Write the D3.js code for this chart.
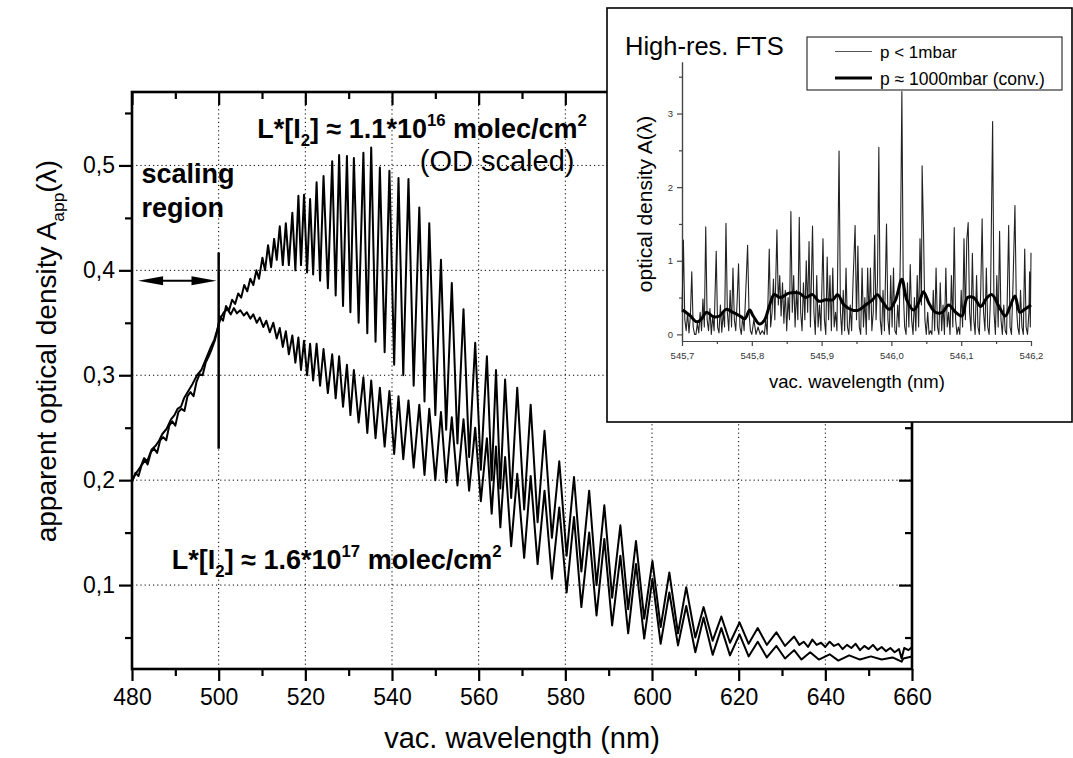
<!DOCTYPE html>
<html>
<head>
<meta charset="utf-8">
<script src="https://cdn.jsdelivr.net/npm/d3@7"></script>
<style>
  body { margin: 0; background: #fff; }
  svg { font-family: "Liberation Sans", Arial, sans-serif; }
  text { white-space: pre; }
</style>
</head>
<body>
<svg id="chart" width="1073" height="758"></svg>
<script>
// main axes ticks
var xMajor = [480, 500, 520, 540, 560, 580, 600, 620, 640, 660];
var xMinor = [490, 510, 530, 550, 570, 590, 610, 630, 650];
var yMajor = [0.1, 0.2, 0.3, 0.4, 0.5];
var yMinor = [0.05, 0.15, 0.25, 0.35, 0.45, 0.55];
var xGrid = [500, 520, 540, 560, 580, 600, 620, 640];

// L*[I2] = 1.1e16 molec/cm2 (OD scaled)  [nm, OD]
var specLow = [
  [480, 0.198], [480.8, 0.207], [481.5, 0.204], [482.2, 0.214], [483, 0.219], [483.6, 0.215],
  [484.4, 0.227], [485.1, 0.23], [485.8, 0.226], [486.5, 0.238], [487.2, 0.241], [487.9, 0.238],
  [488.6, 0.252], [489.3, 0.256], [490, 0.252], [490.7, 0.265], [491.4, 0.268], [492.1, 0.266],
  [492.8, 0.28], [493.5, 0.284], [494.2, 0.28], [494.9, 0.294], [495.6, 0.301], [496.3, 0.3],
  [497, 0.312], [497.7, 0.318], [498.4, 0.325], [499.1, 0.333], [499.7, 0.343], [500.3, 0.356],
  [501, 0.352], [501.7, 0.366], [502.4, 0.362], [503.1, 0.372], [503.8, 0.368], [504.5, 0.378],
  [505.2, 0.374], [505.9, 0.386], [506.6, 0.38], [507.3, 0.392], [508, 0.386], [508.7, 0.4],
  [509.3, 0.392], [510.1, 0.412], [510.7, 0.4], [511.4, 0.424], [512.1, 0.403], [512.8, 0.43],
  [513.4, 0.41], [514.1, 0.442], [514.8, 0.405], [515.5, 0.445], [516.2, 0.405], [517, 0.455],
  [517.7, 0.4], [518.4, 0.471], [519, 0.405], [519.7, 0.472], [520.4, 0.398], [521.1, 0.468],
  [521.8, 0.396], [522.6, 0.484], [523.4, 0.39], [524.2, 0.49], [525.2, 0.383], [526.2, 0.504],
  [527, 0.376], [527.8, 0.51], [528.7, 0.366], [529.6, 0.509], [530.4, 0.36], [531.2, 0.507],
  [532.3, 0.35], [533.4, 0.512], [534.3, 0.34], [535.2, 0.517], [536.2, 0.332], [537.2, 0.498],
  [538.3, 0.322], [539.4, 0.495], [540.5, 0.31], [541.5, 0.488], [542.6, 0.3], [543.8, 0.487],
  [545, 0.29], [546.3, 0.46], [547.5, 0.275], [548.6, 0.445], [550, 0.262], [551.3, 0.41],
  [552.5, 0.248], [553.8, 0.388], [555.1, 0.235], [556.5, 0.363], [557.8, 0.222], [559.2, 0.331],
  [560.5, 0.21], [561.9, 0.318], [563, 0.2], [564, 0.305], [565, 0.192], [566.1, 0.296],
  [567.5, 0.183], [568.9, 0.288], [570.5, 0.172], [572, 0.272], [573.6, 0.16], [575.2, 0.247],
  [576.9, 0.145], [578.6, 0.218], [580.3, 0.128], [582, 0.203], [583.7, 0.113], [585.5, 0.19],
  [587.2, 0.1], [589, 0.176], [590.8, 0.088], [592.7, 0.157], [594.5, 0.077], [596.3, 0.142],
  [598.2, 0.068], [600.1, 0.123], [602, 0.06], [604, 0.112], [606, 0.054], [607.9, 0.098],
  [610, 0.05], [611.9, 0.079], [614, 0.047], [616, 0.07], [618, 0.045], [620.2, 0.0645],
  [622.3, 0.044], [624.4, 0.059], [626.5, 0.043], [628.7, 0.055], [630.7, 0.042], [632.8, 0.051],
  [634, 0.043], [635, 0.046], [636, 0.041], [637, 0.048], [638, 0.043], [639, 0.045],
  [640, 0.041], [641, 0.046], [642, 0.042], [643, 0.044], [644, 0.039], [645, 0.043],
  [646, 0.04], [647, 0.044], [648, 0.038], [649, 0.042], [650, 0.039], [651, 0.043],
  [652, 0.038], [653, 0.041], [654, 0.037], [655, 0.04], [656, 0.036], [657, 0.039],
  [657.6, 0.03], [658.2, 0.04], [659.2, 0.038], [660, 0.041]
];

// L*[I2] = 1.6e17 molec/cm2
var specHigh = [
  [480, 0.2], [481, 0.207], [482, 0.213], [482.8, 0.221], [483.5, 0.218], [484.5, 0.229],
  [485.5, 0.233], [486.3, 0.238], [487, 0.244], [488, 0.249], [489, 0.258], [489.8, 0.262],
  [490.5, 0.268], [491.3, 0.27], [492, 0.278], [493, 0.285], [494, 0.292], [495, 0.3],
  [496, 0.305], [497, 0.315], [498, 0.325], [499, 0.334], [499.8, 0.345], [500.5, 0.355],
  [501.2, 0.36], [502, 0.363], [502.8, 0.358], [503.5, 0.364], [504.2, 0.359], [505, 0.362],
  [505.8, 0.357], [506.5, 0.36], [507.3, 0.354], [508, 0.358], [508.8, 0.35], [509.5, 0.355],
  [510.3, 0.346], [511, 0.352], [511.8, 0.341], [512.6, 0.35], [513.4, 0.335], [514.1, 0.345],
  [514.8, 0.327], [515.5, 0.342], [516.2, 0.32], [517, 0.338], [517.7, 0.312], [518.4, 0.336],
  [519, 0.305], [519.7, 0.333], [520.4, 0.3], [521.1, 0.33], [521.8, 0.295], [522.6, 0.33],
  [523.4, 0.29], [524.2, 0.325], [525.2, 0.283], [526.2, 0.32], [527, 0.278], [527.8, 0.318],
  [528.7, 0.27], [529.6, 0.31], [530.4, 0.262], [531.2, 0.305], [532.3, 0.255], [533.4, 0.298],
  [534.3, 0.245], [535.2, 0.295], [536.2, 0.24], [537.2, 0.288], [538.3, 0.232], [539.4, 0.285],
  [540.5, 0.225], [541.5, 0.28], [542.6, 0.22], [543.8, 0.276], [545, 0.212], [546.3, 0.272],
  [547.5, 0.205], [548.6, 0.268], [550, 0.2], [551.3, 0.265], [552.5, 0.198], [553.8, 0.26],
  [555.1, 0.195], [556.5, 0.258], [557.8, 0.19], [559.2, 0.25], [560.5, 0.18], [561.9, 0.24],
  [563, 0.168], [564, 0.232], [565, 0.155], [566.1, 0.222], [567.5, 0.137], [568.9, 0.206],
  [570.5, 0.126], [572, 0.204], [573.6, 0.12], [575.2, 0.19], [576.9, 0.106], [578.6, 0.174],
  [580.3, 0.093], [582, 0.165], [583.7, 0.079], [585.5, 0.15], [587.2, 0.071], [589, 0.144],
  [590.8, 0.0615], [592.7, 0.128], [594.5, 0.054], [596.3, 0.12], [598.2, 0.049], [600.1, 0.106],
  [602, 0.044], [604, 0.093], [606, 0.0425], [607.9, 0.08], [610, 0.036], [611.9, 0.069],
  [614, 0.0335], [616, 0.059], [618, 0.033], [620.2, 0.053], [622.3, 0.032], [624.4, 0.046],
  [626.5, 0.031], [628.7, 0.042], [630.7, 0.03], [632.8, 0.038], [634.5, 0.029], [636.5, 0.036],
  [638.5, 0.029], [641, 0.034], [643, 0.028], [645.5, 0.033], [648, 0.029], [650.5, 0.032],
  [653, 0.029], [655.5, 0.031], [657.6, 0.027], [658, 0.03], [660, 0.032]
];

// inset: high-res FTS, p < 1mbar
var ftsRaw = [
  [545.700, 0.30], [545.702, 1.28], [545.704, 0.20], [545.706, 0.05], [545.708, 0.30], [545.710, 0.02],
  [545.712, 0.25], [545.714, 0.85], [545.716, 0.10], [545.718, 0.00], [545.720, 0.00], [545.722, 0.15],
  [545.724, 0.02], [545.726, 0.30], [545.728, 0.05], [545.730, 0.48], [545.732, 0.10], [545.734, 1.46],
  [545.736, 0.20], [545.738, 0.05], [545.740, 0.35], [545.742, 0.00], [545.744, 0.25], [545.746, 0.05],
  [545.749, 1.13], [545.751, 0.10], [545.753, 0.02], [545.755, 0.40], [545.757, 0.03], [545.759, 0.30],
  [545.761, 0.10], [545.763, 1.51], [545.765, 0.30], [545.767, 0.05], [545.769, 0.60], [545.771, 0.10],
  [545.773, 0.90], [545.775, 0.20], [545.777, 0.05], [545.779, 0.45], [545.781, 0.96], [545.783, 0.10],
  [545.785, 0.00], [545.787, 0.25], [545.789, 0.05], [545.791, 0.50], [545.794, 1.21], [545.796, 0.30],
  [545.798, 0.05], [545.800, 0.00], [545.803, 0.20], [545.806, 0.00], [545.809, 0.10], [545.812, 0.00],
  [545.815, 0.05], [545.818, 0.00], [545.820, 0.20], [545.822, 0.00], [545.825, 1.16], [545.827, 0.10],
  [545.829, 0.30], [545.831, 0.75], [545.833, 0.20], [545.836, 1.42], [545.838, 0.40], [545.840, 0.80],
  [545.842, 0.25], [545.844, 0.70], [545.846, 0.15], [545.848, 0.60], [545.850, 0.05], [545.852, 0.50],
  [545.854, 0.20], [545.856, 1.67], [545.858, 0.30], [545.860, 0.80], [545.862, 0.10], [545.864, 0.60],
  [545.866, 0.20], [545.868, 1.59], [545.870, 0.30], [545.872, 0.05], [545.874, 0.70], [545.876, 0.20],
  [545.878, 1.00], [545.880, 0.30], [545.882, 1.26], [545.884, 0.10], [545.887, 1.47], [545.889, 0.30],
  [545.891, 0.00], [545.893, 0.80], [545.895, 0.10], [545.897, 0.40], [545.899, 0.05], [545.902, 1.30],
  [545.904, 0.20], [545.906, 0.00], [545.908, 1.05], [545.910, 0.20], [545.912, 0.80], [545.914, 0.05],
  [545.916, 0.90], [545.918, 0.10], [545.920, 0.30], [545.922, 0.05], [545.925, 2.49], [545.927, 0.30],
  [545.929, 0.00], [545.931, 0.60], [545.933, 0.05], [545.935, 0.90], [545.937, 0.10], [545.939, 0.00],
  [545.941, 0.40], [545.943, 0.05], [545.945, 0.70], [545.948, 1.48], [545.950, 0.20], [545.952, 1.20],
  [545.954, 0.10], [545.956, 0.00], [545.958, 0.90], [545.960, 0.10], [545.962, 0.50], [545.964, 0.00],
  [545.966, 0.90], [545.968, 0.20], [545.970, 0.90], [545.972, 0.05], [545.974, 0.30], [545.976, 1.35],
  [545.978, 0.20], [545.980, 0.70], [545.982, 2.54], [545.984, 0.20], [545.986, 0.00], [545.988, 0.60],
  [545.990, 0.05], [545.993, 1.50], [545.995, 0.20], [545.997, 0.00], [545.999, 0.80], [546.001, 0.10],
  [546.003, 0.90], [546.005, 0.05], [546.007, 0.00], [546.009, 0.40], [546.011, 0.10], [546.013, 1.20],
  [546.015, 3.30], [546.017, 0.60], [546.019, 0.10], [546.021, 0.00], [546.023, 0.70], [546.025, 0.10],
  [546.027, 0.95], [546.029, 0.20], [546.031, 0.00], [546.033, 0.50], [546.035, 0.05], [546.037, 0.80],
  [546.039, 0.10], [546.041, 1.30], [546.043, 0.40], [546.044, 2.29], [546.046, 1.40], [546.048, 0.20],
  [546.050, 0.00], [546.052, 0.30], [546.054, 0.00], [546.056, 0.05], [546.058, 0.00], [546.060, 0.60],
  [546.062, 0.05], [546.064, 0.90], [546.066, 0.10], [546.068, 0.00], [546.070, 0.70], [546.072, 0.05],
  [546.074, 0.40], [546.076, 0.00], [546.078, 0.90], [546.080, 0.10], [546.082, 0.30], [546.084, 0.00],
  [546.086, 0.80], [546.088, 0.10], [546.090, 1.45], [546.092, 0.20], [546.094, 0.00], [546.096, 0.10],
  [546.098, 0.00], [546.100, 0.60], [546.102, 0.10], [546.104, 1.30], [546.106, 0.20], [546.108, 1.28],
  [546.110, 1.52], [546.112, 0.30], [546.114, 0.05], [546.116, 1.10], [546.118, 0.20], [546.120, 0.00],
  [546.122, 0.80], [546.124, 0.10], [546.126, 0.00], [546.128, 0.60], [546.130, 1.57], [546.132, 0.30],
  [546.134, 0.05], [546.136, 0.90], [546.138, 0.10], [546.140, 0.00], [546.142, 0.50], [546.145, 2.89],
  [546.147, 0.30], [546.149, 0.00], [546.151, 0.80], [546.153, 0.10], [546.155, 1.40], [546.157, 0.20],
  [546.159, 0.00], [546.161, 0.40], [546.163, 0.05], [546.165, 0.00], [546.168, 1.48], [546.170, 0.10],
  [546.172, 0.00], [546.174, 0.60], [546.177, 1.75], [546.179, 0.40], [546.181, 0.10], [546.183, 0.00],
  [546.185, 0.60], [546.187, 0.10], [546.189, 0.00], [546.191, 1.16], [546.193, 0.10], [546.195, 0.00],
  [546.197, 0.30], [546.198, 0.85], [546.199, 0.10], [546.200, 1.11]
];

// inset: p ~ 1000mbar (convolved)
var ftsConv = [
  [545.701, 0.33], [545.712, 0.25], [545.721, 0.17], [545.728, 0.21], [545.735, 0.30], [545.745, 0.24],
  [545.754, 0.25], [545.763, 0.34], [545.773, 0.30], [545.783, 0.25], [545.790, 0.21], [545.797, 0.33],
  [545.802, 0.25], [545.811, 0.14], [545.818, 0.19], [545.825, 0.38], [545.832, 0.54], [545.841, 0.50],
  [545.853, 0.56], [545.868, 0.56], [545.877, 0.50], [545.887, 0.54], [545.896, 0.45], [545.906, 0.47],
  [545.916, 0.47], [545.923, 0.54], [545.932, 0.40], [545.944, 0.33], [545.953, 0.33], [545.963, 0.40],
  [545.973, 0.47], [545.980, 0.54], [545.987, 0.45], [545.997, 0.34], [546.006, 0.47], [546.015, 0.75],
  [546.022, 0.47], [546.032, 0.33], [546.041, 0.47], [546.046, 0.58], [546.054, 0.42], [546.063, 0.30],
  [546.073, 0.30], [546.082, 0.40], [546.092, 0.30], [546.101, 0.25], [546.109, 0.50], [546.118, 0.50],
  [546.128, 0.38], [546.137, 0.50], [546.144, 0.54], [546.154, 0.38], [546.163, 0.25], [546.170, 0.38],
  [546.177, 0.52], [546.184, 0.30], [546.191, 0.34], [546.200, 0.40]
];

var insetXTicks = [545.7, 545.8, 545.9, 546.0, 546.1, 546.2];
var insetXMinor = [545.75, 545.85, 545.95, 546.05, 546.15];
var insetYTicks = [0, 1, 2, 3];
var insetYMinor = [0.5, 1.5, 2.5, 3.5];

var svg = d3.select("#chart");
var x = d3.scaleLinear().domain([480, 660]).range([132, 912]);
var y = d3.scaleLinear().domain([0.02, 0.57]).range([669, 92]);
var comma = function (d) { return d3.format(".1f")(d).replace(".", ","); };

// grid
var grid = svg.append("g").attr("stroke", "#000").attr("stroke-width", 1).attr("stroke-dasharray", "1.2,3");
grid.selectAll(".gx").data(xGrid).enter().append("line")
    .attr("x1", function (d) { return x(d); }).attr("x2", function (d) { return x(d); })
    .attr("y1", y.range()[0]).attr("y2", y.range()[1]);
grid.selectAll(".gy").data(yMajor).enter().append("line")
    .attr("y1", function (d) { return y(d); }).attr("y2", function (d) { return y(d); })
    .attr("x1", x.range()[0]).attr("x2", x.range()[1]);

// axes
function styleAxis(g, fontSize) {
    g.select(".domain").remove();
    g.selectAll(".tick line").attr("stroke", "#000").attr("stroke-width", 2.2);
    g.selectAll(".tick text").attr("font-size", fontSize).attr("fill", "#000")
        .attr("font-family", "Liberation Sans, Arial, sans-serif");
}
function addAxis(axis, tr) {
    var g = svg.append("g").attr("transform", tr).call(axis);
    styleAxis(g, 23);
    return g;
}
addAxis(d3.axisBottom(x).tickValues(xMajor).tickSize(12).tickPadding(8).tickFormat(d3.format("d")), "translate(0,669)");
addAxis(d3.axisBottom(x).tickValues(xMinor).tickSize(7).tickFormat(""), "translate(0,669)");
addAxis(d3.axisTop(x).tickValues(xMajor).tickSize(-13).tickFormat(""), "translate(0,92)");
addAxis(d3.axisTop(x).tickValues(xMinor).tickSize(-7).tickFormat(""), "translate(0,92)");
addAxis(d3.axisLeft(y).tickValues(yMajor).tickSize(13).tickPadding(4).tickFormat(comma), "translate(132,0)");
addAxis(d3.axisLeft(y).tickValues(yMinor).tickSize(7).tickFormat(""), "translate(132,0)");
addAxis(d3.axisRight(y).tickValues(yMajor).tickSize(-13).tickFormat(""), "translate(912,0)");
addAxis(d3.axisRight(y).tickValues(yMinor).tickSize(-7).tickFormat(""), "translate(912,0)");

svg.append("rect")
    .attr("x", x.range()[0]).attr("y", y.range()[1])
    .attr("width", x.range()[1] - x.range()[0]).attr("height", y.range()[0] - y.range()[1])
    .attr("fill", "none").attr("stroke", "#000").attr("stroke-width", 2.6);

// spectra
var line = d3.line().x(function (d) { return x(d[0]); }).y(function (d) { return y(d[1]); });
[specHigh, specLow].forEach(function (s) {
    svg.append("path").datum(s).attr("d", line)
        .attr("fill", "none").attr("stroke", "#000").attr("stroke-width", 2).attr("stroke-linejoin", "round");
});

// scaling region marker
svg.append("line")
    .attr("x1", x(500)).attr("x2", x(500)).attr("y1", y(0.417)).attr("y2", y(0.23))
    .attr("stroke", "#000").attr("stroke-width", 2.5);
var ay = y(0.39), ax0 = x(481.4), ax1 = x(499.5);
svg.append("line").attr("x1", ax0 + 10).attr("x2", ax1 - 10).attr("y1", ay).attr("y2", ay)
    .attr("stroke", "#000").attr("stroke-width", 2);
svg.append("path").attr("d", "M" + ax0 + "," + ay + "l25,-4.5v9z");
svg.append("path").attr("d", "M" + ax1 + "," + ay + "l-25,-4.5v9z");

function richText(g, px, py, parts, size, weight) {
    var t = g.append("text").attr("x", px).attr("y", py)
        .attr("font-size", size).attr("font-weight", weight).attr("fill", "#000");
    var shift = 0;
    parts.forEach(function (p) {
        var target = p.sub ? size * 0.3 : (p.sup ? -size * 0.45 : 0);
        t.append("tspan").attr("dy", target - shift)
            .attr("font-size", (p.sub || p.sup) ? size * 0.62 : size).text(p.t);
        shift = target;
    });
    return t;
}

richText(svg, x(482.2), y(0.4829), [{ t: "scaling" }], 27, "bold");
richText(svg, x(482.2), y(0.4505), [{ t: "region" }], 27, "bold");
richText(svg, x(508.9), y(0.5264), [{ t: "L*[I" }, { t: "2", sub: true }, { t: "] \u2248 1.1*10" },
    { t: "16", sup: true }, { t: " molec/cm" }, { t: "2", sup: true }], 27, "bold");
richText(svg, x(546.4), y(0.4946), [{ t: "(OD scaled)" }], 29, "normal");
richText(svg, x(489.2), y(0.1152), [{ t: "L*[I" }, { t: "2", sub: true }, { t: "] \u2248 1.6*10" },
    { t: "17", sup: true }, { t: " molec/cm" }, { t: "2", sup: true }], 27, "bold");

// axis titles
svg.append("text").attr("x", 522).attr("y", 748).attr("text-anchor", "middle")
    .attr("font-size", 29).text("vac. wavelength (nm)");
var yt = richText(svg, 0, 0, [{ t: "apparent optical density A" }, { t: "app", sub: true }, { t: "(\u03bb)" }], 28, "normal");
yt.attr("text-anchor", "end").attr("transform", "translate(56,160) rotate(-90)");

// ---- inset ----
var inset = svg.append("g");
inset.append("rect").attr("x", 607).attr("y", 8).attr("width", 465).attr("height", 414)
    .attr("fill", "#fff").attr("stroke", "#000").attr("stroke-width", 1.6);

var ix = d3.scaleLinear().domain([545.7, 546.2]).range([682, 1031]);
var iy = d3.scaleLinear().domain([-0.09, 3.7]).range([341, 62]);

function insetAxis(axis, tr, size) {
    var g = inset.append("g").attr("transform", tr).call(axis);
    g.select(".domain").attr("stroke", "#444").attr("stroke-width", 1.2);
    g.selectAll(".tick line").attr("stroke", "#444").attr("stroke-width", 1.2);
    g.selectAll(".tick text").attr("font-size", size).attr("fill", "#333")
        .attr("font-family", "Liberation Sans, Arial, sans-serif");
    return g;
}
insetAxis(d3.axisBottom(ix).tickValues(insetXTicks).tickSize(5).tickSizeOuter(0).tickPadding(6)
    .tickFormat(function (d) { return d3.format(".1f")(d).replace(".", ","); }), "translate(0,341)", 9.5);
insetAxis(d3.axisBottom(ix).tickValues(insetXMinor).tickSize(3).tickSizeOuter(0).tickFormat(""), "translate(0,341)", 9.5);
insetAxis(d3.axisLeft(iy).tickValues(insetYTicks).tickSize(5).tickSizeOuter(0).tickPadding(4)
    .tickFormat(d3.format("d")), "translate(682,0)", 9.5);
insetAxis(d3.axisLeft(iy).tickValues(insetYMinor).tickSize(3).tickSizeOuter(0).tickFormat(""), "translate(682,0)", 9.5);

var iline = d3.line().x(function (d) { return ix(d[0]); }).y(function (d) { return iy(d[1]); });
inset.append("path").datum(ftsRaw).attr("d", iline)
    .attr("fill", "none").attr("stroke", "#222").attr("stroke-width", 1.1).attr("stroke-linejoin", "round");
inset.append("path").datum(ftsConv).attr("d", d3.line().curve(d3.curveCatmullRom)
        .x(function (d) { return ix(d[0]); }).y(function (d) { return iy(d[1]); }))
    .attr("fill", "none").attr("stroke", "#000").attr("stroke-width", 3).attr("stroke-linejoin", "round");

inset.append("text").attr("x", 625).attr("y", 55).attr("font-size", 25.5).text("High-res. FTS");
inset.append("text").attr("x", 857).attr("y", 388).attr("text-anchor", "middle")
    .attr("font-size", 18.5).text("vac. wavelength (nm)");
inset.append("text").attr("text-anchor", "middle").attr("font-size", 21)
    .attr("transform", "translate(652,204) rotate(-90)").text("optical density A(\u03bb)");

// legend
var lg = inset.append("g");
lg.append("rect").attr("x", 807).attr("y", 37).attr("width", 255).attr("height", 53)
    .attr("fill", "#fff").attr("stroke", "#333").attr("stroke-width", 1.2);
lg.append("line").attr("x1", 835).attr("x2", 872).attr("y1", 51.5).attr("y2", 51.5)
    .attr("stroke", "#555").attr("stroke-width", 1.2);
lg.append("line").attr("x1", 835).attr("x2", 872).attr("y1", 78).attr("y2", 78)
    .attr("stroke", "#000").attr("stroke-width", 3);
lg.append("text").attr("x", 880).attr("y", 58).attr("font-size", 17).text("p < 1mbar");
lg.append("text").attr("x", 880).attr("y", 84.5).attr("font-size", 17.5).text("p \u2248 1000mbar (conv.)");
</script>
</body>
</html>
